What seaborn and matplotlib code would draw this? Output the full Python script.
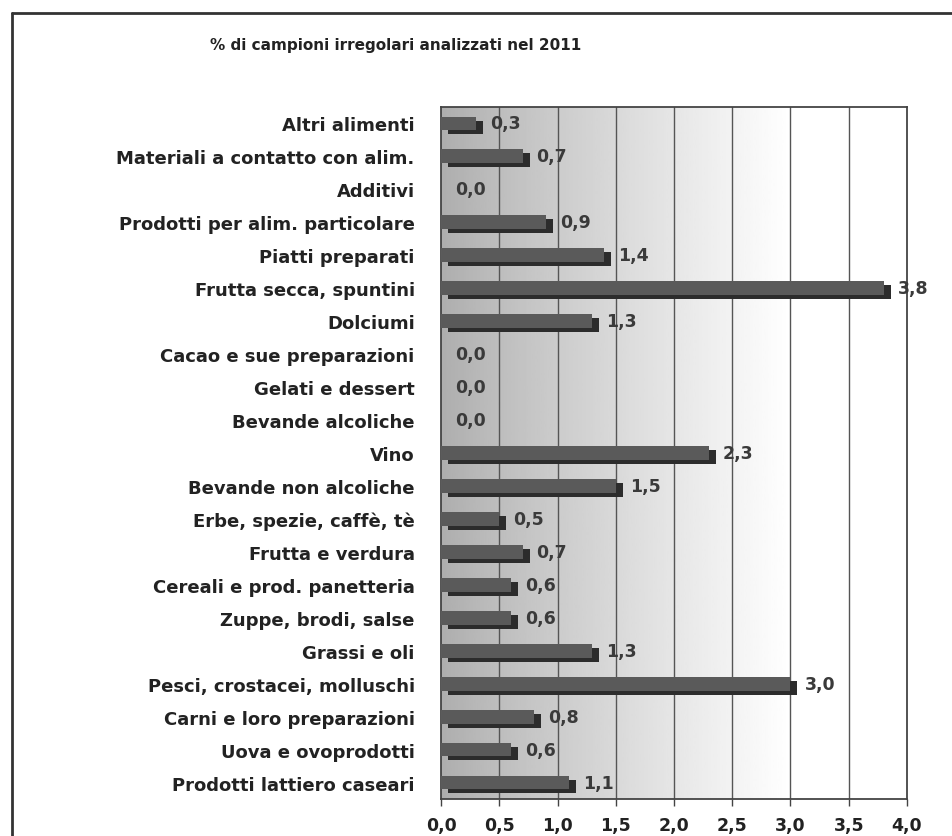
import numpy as np
import pandas as pd
import matplotlib
matplotlib.use("Agg")
import matplotlib.pyplot as plt
import matplotlib.transforms as mtransforms
import seaborn as sns

# dati (dall'alto verso il basso)
categorie = [
    "Altri alimenti",
    "Materiali a contatto con alim.",
    "Additivi",
    "Prodotti per alim. particolare",
    "Piatti preparati",
    "Frutta secca, spuntini",
    "Dolciumi",
    "Cacao e sue preparazioni",
    "Gelati e dessert",
    "Bevande alcoliche",
    "Vino",
    "Bevande non alcoliche",
    "Erbe, spezie, caffè, tè",
    "Frutta e verdura",
    "Cereali e prod. panetteria",
    "Zuppe, brodi, salse",
    "Grassi e oli",
    "Pesci, crostacei, molluschi",
    "Carni e loro preparazioni",
    "Uova e ovoprodotti",
    "Prodotti lattiero caseari",
]
percentuali = [0.3, 0.7, 0.0, 0.9, 1.4, 3.8, 1.3, 0.0, 0.0, 0.0, 2.3, 1.5,
               0.5, 0.7, 0.6, 0.6, 1.3, 3.0, 0.8, 0.6, 1.1]
x_ticks = [0.0, 0.5, 1.0, 1.5, 2.0, 2.5, 3.0, 3.5, 4.0]
titolo = "% di campioni irregolari analizzati nel 2011"

df = pd.DataFrame({"Categoria": categorie, "Valore": percentuali})

sns.set_theme(style="white")
plt.rcParams["font.family"] = ["DejaVu Sans"]

fig = plt.figure(figsize=(9.53, 8.37), dpi=100)
ax = fig.add_axes([0.4628, 0.0442, 0.4889, 0.8268])

# sfondo sfumato (grigio a sinistra, bianco a destra)
g = np.linspace(0.0, 1.0, 256)
grad = (0.68 + 0.32 * np.clip(g / 0.75, 0, 1) ** 0.9)[None, :]
ax.imshow(grad, extent=[0, 1, 0, 1], transform=ax.transAxes, cmap="gray",
          vmin=0, vmax=1, aspect="auto", zorder=0)

# ombra delle barre (effetto 3D)
sns.barplot(data=df, x="Valore", y="Categoria", color="#2c2c2c", width=0.42,
            saturation=1, linewidth=0, ax=ax, zorder=2)
ombra = mtransforms.offset_copy(ax.transData, fig=fig, x=7, y=-4, units="dots")
for p in ax.patches:
    p.set_transform(ombra)

sns.barplot(data=df, x="Valore", y="Categoria", color="#5a5a5a", width=0.42,
            saturation=1, linewidth=0, ax=ax, zorder=3)

for i, v in enumerate(percentuali):
    ax.annotate(f"{v:.1f}".replace(".", ","), xy=(v, i), xytext=(14, 0),
                textcoords="offset pixels", ha="left", va="center",
                fontsize=12.5, fontweight="bold", color="#3a3a3a", zorder=4)

ax.set_xlim(0, 4)
ax.set_ylim(len(categorie) - 0.5, -0.5)
ax.set_xticks(x_ticks)
ax.set_xticklabels([f"{t:.1f}".replace(".", ",") for t in x_ticks],
                   fontsize=12.5, fontweight="bold", color="#222222")
ax.set_yticks(range(len(categorie)))
ax.set_yticklabels(categorie, fontsize=13, fontweight="bold", color="#222222")
ax.set_yticks(np.arange(-0.5, len(categorie)), minor=True)
ax.tick_params(axis="y", which="major", length=0, pad=19)
ax.tick_params(axis="y", which="minor", length=5, width=1, color="#444444", direction="out")
ax.tick_params(axis="x", which="major", length=5, width=1, color="#444444",
               direction="out", pad=7, bottom=True)
ax.set_xlabel("")
ax.set_ylabel("")
ax.grid(False)
for x in x_ticks[1:-1]:
    ax.axvline(x, color="#555555", lw=1, zorder=1)
for s in ax.spines.values():
    s.set_visible(True)
    s.set_color("#444444")
    s.set_linewidth(1.3)

fig.text(0.4155, 0.946, titolo, ha="center", va="center", fontsize=11,
         fontweight="bold", color="#222222")

# cornice del grafico
fig.add_artist(plt.Line2D([0.0126, 0.0126], [0.0, 0.983], color="#333333", lw=2))
fig.add_artist(plt.Line2D([0.0126, 1.0], [0.983, 0.983], color="#333333", lw=2))

fig.savefig("out.png", dpi=100)
